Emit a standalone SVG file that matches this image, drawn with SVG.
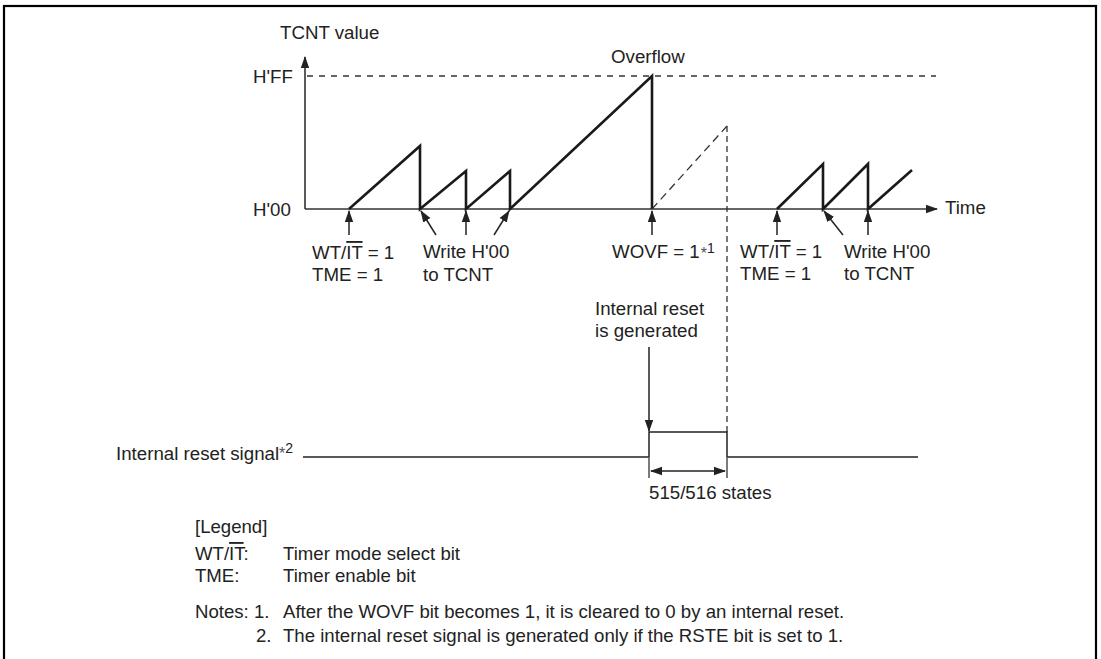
<svg xmlns="http://www.w3.org/2000/svg" width="1101" height="659" viewBox="0 0 1101 659">
<defs>
<marker id="ah" markerUnits="userSpaceOnUse" markerWidth="12" markerHeight="10" viewBox="0 0 12 10" refX="11" refY="5" orient="auto">
<path d="M0,0.8 L12,5 L0,9.2 Z" fill="#222"/>
</marker>
<marker id="ahs" markerUnits="userSpaceOnUse" markerWidth="12" markerHeight="10" viewBox="0 0 12 10" refX="1" refY="5" orient="auto">
<path d="M12,0.8 L0,5 L12,9.2 Z" fill="#222"/>
</marker>
</defs>
<style>
text{font-family:"Liberation Sans",Arial,sans-serif;fill:#222;}
.lbl{font-size:18.7px;}
.leg{font-size:18.6px;}
.ast{font-size:16px;fill:#555;}
.sup{font-size:14px;}
.ax{stroke:#333;stroke-width:1.6;fill:none;}
.saw{stroke:#1a1a1a;stroke-width:2.6;fill:none;stroke-linejoin:miter;}
.arr{stroke:#222;stroke-width:1.5;fill:none;marker-end:url(#ah);}
.dash{stroke:#333;stroke-width:1.3;fill:none;stroke-dasharray:6 6;}
.ov{text-decoration:overline;}
</style>
<rect x="4" y="6" width="1092" height="660" fill="#fff" stroke="#000" stroke-width="2.2"/>

<g id="axes">
<line class="ax" x1="305" y1="209" x2="305" y2="57" marker-end="url(#ah)"/>
<line class="ax" x1="305" y1="209" x2="937" y2="209" marker-end="url(#ah)"/>
<line class="dash" x1="307" y1="76" x2="936" y2="76"/>
<text class="lbl" x="280" y="39">TCNT value</text>
<text class="lbl" x="253" y="83">H'FF</text>
<text class="lbl" x="253" y="216">H'00</text>
<text class="lbl" x="945" y="214">Time</text>
<text class="lbl" x="611" y="63">Overflow</text>
</g>

<g id="tcnt-waveform">
<polyline class="saw" points="349,209 420,146 420,209 466,171 466,209 510,171 510,209 652,76 652,209"/>
<line x1="652" y1="209" x2="727" y2="126" stroke="#333" stroke-width="1.3" stroke-dasharray="8 5"/>
<line x1="727" y1="126" x2="727" y2="432" stroke="#333" stroke-width="1.3" stroke-dasharray="6 4"/>
<polyline class="saw" points="777,209 823,164 823,209 868,164 868,209 912,170"/>
</g>

<g id="connectors">
<line class="arr" x1="349" y1="235" x2="349" y2="211"/>
<line class="arr" x1="436" y1="235" x2="421" y2="211"/>
<line class="arr" x1="466" y1="235" x2="466" y2="211"/>
<line class="arr" x1="494" y1="235" x2="509" y2="211"/>
<line class="arr" x1="652" y1="235" x2="652" y2="211"/>
<line class="arr" x1="777" y1="235" x2="777" y2="211"/>
<line class="arr" x1="843" y1="235" x2="824" y2="211"/>
<line class="arr" x1="868" y1="235" x2="868" y2="211"/>
<line class="arr" x1="649" y1="347" x2="649" y2="431"/>
</g>

<g id="label-wtit-left">
<text class="lbl" x="312" y="259">WT/<tspan class="ov">IT</tspan> = 1</text>
<text class="lbl" x="312" y="281">TME = 1</text>
</g>
<g id="label-write-left">
<text class="lbl" x="423" y="258">Write H'00</text>
<text class="lbl" x="423" y="281">to TCNT</text>
</g>
<g id="label-wovf">
<text class="lbl" x="612" y="258">WOVF = 1<tspan class="ast" dx="1" dy="1">*</tspan><tspan class="sup" dy="-6">1</tspan></text>
</g>
<g id="label-wtit-right">
<text class="lbl" x="740" y="258">WT/<tspan class="ov">IT</tspan> = 1</text>
<text class="lbl" x="740" y="280">TME = 1</text>
</g>
<g id="label-write-right">
<text class="lbl" x="844" y="258">Write H'00</text>
<text class="lbl" x="844" y="280">to TCNT</text>
</g>
<g id="label-reset-gen">
<text class="lbl" x="595" y="315">Internal reset</text>
<text class="lbl" x="595" y="337">is generated</text>
</g>

<g id="reset-signal">
<text class="lbl" x="116" y="460">Internal reset signal<tspan class="ast" dy="-1">*</tspan><tspan class="sup" dy="-6">2</tspan></text>
<polyline points="303,457 649,457 649,432 727,432 727,457 918,457" fill="none" stroke="#222" stroke-width="1.5"/>
<line x1="649" y1="458" x2="649" y2="478" stroke="#222" stroke-width="1.2"/>
<line x1="727" y1="458" x2="727" y2="478" stroke="#222" stroke-width="1.2"/>
<line x1="651" y1="471" x2="725" y2="471" stroke="#222" stroke-width="1.5" marker-start="url(#ahs)" marker-end="url(#ah)"/>
<text class="lbl" x="649" y="499">515/516 states</text>
</g>

<g id="legend">
<text class="leg" x="195" y="533">[Legend]</text>
<text class="leg" x="195" y="560">WT/<tspan class="ov">IT</tspan>:</text>
<text class="leg" x="283" y="560">Timer mode select bit</text>
<text class="leg" x="195" y="582">TME:</text>
<text class="leg" x="283" y="582">Timer enable bit</text>
<text class="leg" x="195" y="618">Notes: 1.</text>
<text class="leg" x="283" y="618">After the WOVF bit becomes 1, it is cleared to 0 by an internal reset.</text>
<text class="leg" x="256" y="642">2.</text>
<text class="leg" x="283" y="642">The internal reset signal is generated only if the RSTE bit is set to 1.</text>
</g>
</svg>
